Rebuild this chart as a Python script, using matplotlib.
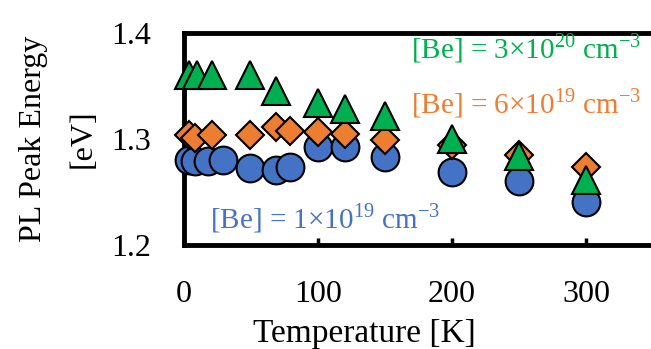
import matplotlib.pyplot as plt

plt.rcParams['font.family'] = ['Liberation Serif', 'DejaVu Serif']
plt.rcParams['mathtext.fontset'] = 'custom'
plt.rcParams['mathtext.rm'] = 'Liberation Serif'

# temperatures [K] and PL peak energies [eV]
t_low = [4, 8, 18, 29, 49, 69, 79, 100, 120, 150, 200, 250, 300]
e_low = [1.280, 1.279, 1.279, 1.280, 1.273, 1.271, 1.274, 1.292, 1.292, 1.283, 1.269, 1.260, 1.241]

t_mid = [4, 8, 21, 49, 69, 79, 100, 120, 150, 200, 250, 300]
e_mid = [1.304, 1.301, 1.304, 1.304, 1.311, 1.308, 1.307, 1.305, 1.299, 1.294, 1.285, 1.274]

t_high = [4, 10, 21, 49, 69, 100, 120, 150, 200, 250, 300]
e_high = [1.360, 1.360, 1.360, 1.360, 1.345, 1.334, 1.328, 1.322, 1.300, 1.284, 1.261]

blue = '#4472C4'
orange = '#ED7D31'
green = '#00B050'

fig = plt.figure(figsize=(6.51, 3.49), dpi=100)
ax = fig.add_axes([0.2826, 0.298, 0.7204, 0.6074])

ax.plot(t_low, e_low, 'o', ms=20, mfc=blue, mec='black', mew=1.5, clip_on=False, zorder=3)
ax.plot(t_mid, e_mid, 'D', ms=14.5, mfc=orange, mec='black', mew=1.5, clip_on=False, zorder=4)
ax.plot(t_high, e_high, '^', ms=20, mfc=green, mec='black', mew=1.5, clip_on=False, zorder=5)

ax.set_xlim(0, 350)
ax.set_ylim(1.2, 1.4)
ax.set_xticks([0, 100, 200, 300])
ax.set_yticks([1.2, 1.3, 1.4])
ax.set_yticklabels(['1.2', '1.3', '1.4'])

for s in ax.spines.values():
    s.set_linewidth(3.5)
ax.tick_params(axis='x', direction='in', length=5, width=2.5, pad=25, labelsize=23)
ax.tick_params(axis='y', length=0, pad=24, labelsize=23)

ax.set_xlabel('Temperature [K]', fontsize=24)
ax.xaxis.set_label_coords(0.385, -0.345)
ax.set_ylabel('PL Peak Energy\n[eV]', fontsize=23, linespacing=1.9)
ax.yaxis.set_label_coords(-0.185, 0.5)

ax.text(0.975, 0.93, r'[Be] = 3$\times$10$^{20}$ cm$^{-3}$', transform=ax.transAxes,
        color=green, fontsize=21, ha='right', va='center')
ax.text(0.975, 0.67, r'[Be] = 6$\times$10$^{19}$ cm$^{-3}$', transform=ax.transAxes,
        color=orange, fontsize=21, ha='right', va='center')
ax.text(0.055, 0.125, r'[Be] = 1$\times$10$^{19}$ cm$^{-3}$', transform=ax.transAxes,
        color=blue, fontsize=21, ha='left', va='center')

plt.savefig('out.png', dpi=100)
